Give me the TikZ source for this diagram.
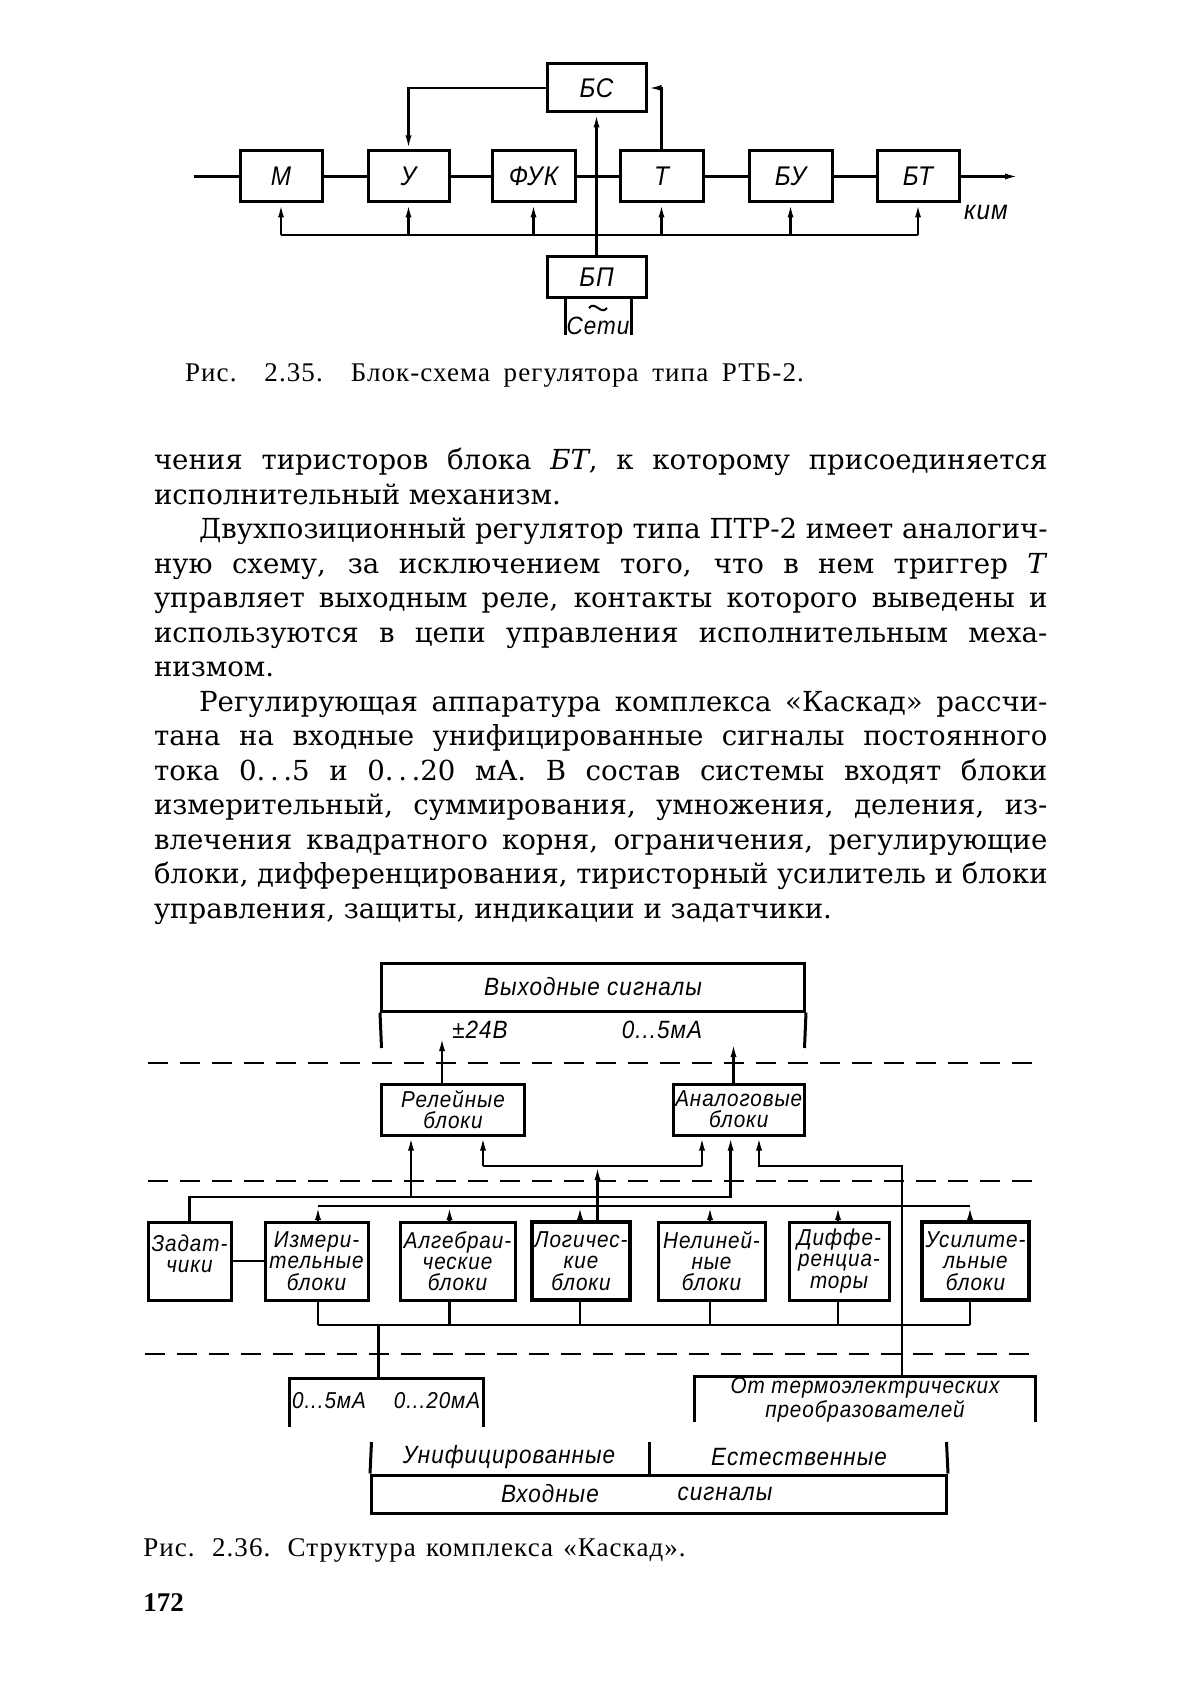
\documentclass[tikz,border=0pt]{standalone}
\usepackage{fontspec}
\setmainfont{DejaVu Serif}
\newfontfamily\capfont[LetterSpace=4]{Liberation Serif}
\newfontfamily\pgfontfam{Liberation Serif}
\newfontfamily\gostfont[LetterSpace=4,FakeStretch=0.9]{Liberation Sans}
\usetikzlibrary{arrows.meta,calc}
\newsavebox\jbox
\newcommand\jline[2]{\sbox\jbox{#2}\ifdim\wd\jbox>#1\relax\pgfmathsetmacro\jfac{#1/\the\wd\jbox}\scalebox{\jfac}[1]{\usebox\jbox}\else\makebox[#1][s]{#2}\fi}
\newcommand\gfont{\gostfont\itshape\fontsize{11.5}{10.6}\selectfont}
\newcommand\gfontL{\gostfont\itshape\fontsize{12.5}{12}\selectfont}
\newcommand\gfontT{\gostfont\itshape\fontsize{13.5}{14}\selectfont}
\newcommand\bodyfont{\fontsize{13.8}{16}\selectfont}
\newcommand\cfont{\capfont\fontsize{13.5}{15}\selectfont}
\begin{document}
\begin{tikzpicture}[x=0.5pt,y=-0.5pt,
  >={Latex[length=7pt,width=3pt]},
  blk/.style={draw,line width=1.5pt,inner sep=0pt,font=\gfont,align=center},
  blkL/.style={blk,font=\gfontL},
  blkT/.style={blk,font=\gfontT},
  nobox/.style={inner sep=0pt,font=\gfont,align=center},
  conn/.style={line width=1.2pt},
  boxln/.style={line width=1.5pt},
  dsh/.style={line width=1.1pt,dash pattern=on 10pt off 6pt},
  lbl/.style={inner sep=0pt,font=\gfont,align=center},
  lblL/.style={inner sep=0pt,font=\gfontL,align=center},
  lblT/.style={inner sep=0pt,font=\gfontT,align=center},
  txt/.style={anchor=base west,inner sep=0pt,font=\bodyfont},
  captxt/.style={anchor=base west,inner sep=0pt,font=\cfont}]
\useasboundingbox (0,0) rectangle (1188,1684);
\fill[white] (0,0) rectangle (1188,1684);

% ---------------- Fig. 2.35 ----------------
\node[blkT,minimum width=49.5pt,minimum height=24pt] (BS) at (596.5,88) {БС};
\node[blkT,minimum width=41pt,minimum height=25.5pt] (M) at (281,176.5) {М};
\node[blkT,minimum width=40.5pt,minimum height=25.5pt] (U) at (408.5,176.5) {У};
\node[blkT,minimum width=41.5pt,minimum height=25.5pt] (F) at (533.5,176.5) {ФУК};
\node[blkT,minimum width=41.5pt,minimum height=25.5pt] (T) at (661.5,176.5) {Т};
\node[blkT,minimum width=41.5pt,minimum height=25.5pt] (BU) at (790.5,176.5) {БУ};
\node[blkT,minimum width=41pt,minimum height=25.5pt] (BT) at (918,176.5) {БТ};
\node[blkT,minimum width=49.5pt,minimum height=20.5pt] (BP) at (596.5,277.5) {БП};

\coordinate (in) at (194,176.5);
\coordinate (out) at (1019,176.5);
\draw[conn] (in) -- (M.west);
\draw[conn] (M.east) -- (U.west);
\draw[conn] (U.east) -- (F.west);
\draw[conn] (F.east) -- (T.west);
\draw[conn] (T.east) -- (BU.west);
\draw[conn] (BU.east) -- (BT.west);
\draw[conn,->] (BT.east) -- (out);
\node[lblT] (kim) at (986,212) {ким};

\coordinate (bus) at (0,235);
\draw[conn] (M.south |- bus) -- (BT.south |- bus);
\foreach \n in {M,U,F,T,BU,BT} \draw[conn,->] (\n.south |- bus) -- (\n.south);
\draw[conn,->] (BP.north) -- (BS.south);
\draw[conn,->] (BS.west) -| (U.north);
\draw[conn,->] (T.north) |- (BS.east);
\coordinate (legL) at (565,335);
\coordinate (legR) at (631,335);
\draw[boxln] (BP.south -| legL) -- (legL);
\draw[boxln] (BP.south -| legR) -- (legR);
\coordinate (tl) at (589,308);
\coordinate (tr) at (607,308);
\draw[line width=1pt] (tl) .. controls (595,300) and (601,316) .. (tr);
\node[lblL] (seti) at (598,326) {Сети};

\node[captxt] (cap1) at (184.7,382) {\jline{309.4pt}{Рис. 2.35. Блок-схема регулятора типа РТБ-2.}};

% ---------------- Body text ----------------
\node[txt] (l1) at (153.6,469.5) {\jline{446.7pt}{чения тиристоров блока \textit{БТ}, к которому присоединяется}};
\node[txt] (l2) at (153.6,504) {исполнительный механизм.};
\node[txt] (l3) at (198.7,538.5) {\jline{424.2pt}{Двухпозиционный регулятор типа ПТР-2 имеет аналогич-}};
\node[txt] (l4) at (153.6,573) {\jline{446.7pt}{ную схему, за исключением того, что в нем триггер \textit{T}}};
\node[txt] (l5) at (153.6,607.5) {\jline{446.7pt}{управляет выходным реле, контакты которого выведены и}};
\node[txt] (l6) at (153.6,642) {\jline{446.7pt}{используются в цепи управления исполнительным меха-}};
\node[txt] (l7) at (153.6,676.5) {низмом.};
\node[txt] (l8) at (198.7,711) {\jline{424.2pt}{Регулирующая аппаратура комплекса «Каскад» рассчи-}};
\node[txt] (l9) at (153.6,745.5) {\jline{446.7pt}{тана на входные унифицированные сигналы постоянного}};
\node[txt] (l10) at (153.6,780) {\jline{446.7pt}{тока 0.\,.\,.5 и 0.\,.\,.20 мА. В состав системы входят блоки}};
\node[txt] (l11) at (153.6,814.5) {\jline{446.7pt}{измерительный, суммирования, умножения, деления, из-}};
\node[txt] (l12) at (153.6,849) {\jline{446.7pt}{влечения квадратного корня, ограничения, регулирующие}};
\node[txt] (l13) at (153.6,883.5) {\jline{446.7pt}{блоки, дифференцирования, тиристорный усилитель и блоки}};
\node[txt] (l14) at (153.6,918) {управления, защиты, индикации и задатчики.};

% ---------------- Fig. 2.36 ----------------
\node[blkL,minimum width=211.5pt,minimum height=24pt] (Out) at (593,987) {Выходные сигналы};
\coordinate (outL) at (381.5,1048);
\coordinate (outR) at (804.5,1048);
\draw[boxln] (Out.south west) -- (outL);
\draw[boxln] (Out.south east) -- (outR);
\node[lblL] (v24) at (480,1030) {±24В};
\node[lblL] (v05) at (662,1030) {0...5мА};

\coordinate (d1a) at (148,1063); \coordinate (d1b) at (1040,1063);
\coordinate (d2a) at (148,1181); \coordinate (d2b) at (1033,1181);
\coordinate (d3a) at (145,1354); \coordinate (d3b) at (1038,1354);
\draw[dsh] (d1a) -- (d1b);
\draw[dsh] (d2a) -- (d2b);
\draw[dsh] (d3a) -- (d3b);

\node[blk,minimum width=71.5pt,minimum height=25.5pt] (Rel) at (453,1109.5) {Релейные\\блоки};
\node[blk,minimum width=65.75pt,minimum height=25.5pt] (Ana) at (738.75,1109.5) {Аналоговые\\блоки};
\coordinate (relout) at (442,1037);
\coordinate (anaout) at (733.5,1043);
\draw[conn,->] (Rel.north -| relout) -- (relout);
\draw[conn,->] (Ana.north -| anaout) -- (anaout);

\node[blk,minimum width=41.5pt,minimum height=39pt] (Zad) at (189.5,1261) {};
\node[lbl] (zadt) at (189.5,1254) {Задат-\\чики};
\node[blk,minimum width=51.5pt,minimum height=39pt] (Izm) at (316.5,1261) {Измери-\\тельные\\блоки};
\node[blk,minimum width=57.5pt,minimum height=39pt] (Alg) at (457.5,1261) {Алгебраи-\\ческие\\блоки};
\node[blk,minimum width=49pt,minimum height=39pt,line width=1.8pt] (Log) at (581,1261) {Логичес-\\кие\\блоки};
\node[blk,minimum width=53.5pt,minimum height=39pt] (Nel) at (711.5,1261) {Нелиней-\\ные\\блоки};
\node[blk,minimum width=50pt,minimum height=39pt] (Dif) at (839,1261) {Диффе-\\ренциа-\\торы};
\node[blk,minimum width=53.5pt,minimum height=39pt,line width=1.8pt] (Usi) at (975.5,1261) {Усилите-\\льные\\блоки};
\draw[conn] (Zad.east) -- (Izm.west);

% upper bus with arrows from the blocks
\coordinate (a1) at (318,1206); \coordinate (a2) at (449.5,1206);
\coordinate (a3) at (580,1206); \coordinate (a4) at (710,1206);
\coordinate (a5) at (838,1206); \coordinate (a6) at (970,1206);
\draw[conn] (a1) -- (a6);
\draw[conn,->] (Izm.north -| a1) -- (a1);
\draw[conn,->] (Alg.north -| a2) -- (a2);
\draw[conn,->] (Log.north -| a3) -- (a3);
\draw[conn,->] (Nel.north -| a4) -- (a4);
\draw[conn,->] (Dif.north -| a5) -- (a5);
\draw[conn,->] (Usi.north -| a6) -- (a6);

% lower bus
\coordinate (b1) at (318,1325); \coordinate (b2) at (449.5,1325);
\coordinate (b3) at (580,1325); \coordinate (b4) at (710,1325);
\coordinate (b5) at (838,1325); \coordinate (b6) at (970,1325);
\draw[conn] (b1) -- (b6);
\draw[conn] (Izm.south -| b1) -- (b1);
\draw[conn] (Alg.south -| b2) -- (b2);
\draw[conn] (Log.south -| b3) -- (b3);
\draw[conn] (Nel.south -| b4) -- (b4);
\draw[conn] (Dif.south -| b5) -- (b5);
\draw[conn] (Usi.south -| b6) -- (b6);

% Zadatchiki line
\coordinate (zR) at (730.6,1197);
\coordinate (zB) at (411,1197);
\draw[conn,->] (Zad.north) |- (zR) -- (Ana.south -| zR);
\draw[conn,->] (zB) -- (Rel.south -| zB);

% line at 1166
\coordinate (hL) at (483,1166);
\coordinate (hR) at (702,1166);
\draw[conn,->] (hL) -- (Rel.south -| hL);
\draw[conn] (hL) -- (hR);
\draw[conn,->] (hR) -- (Ana.south -| hR);
\coordinate (lg) at (597.5,1166);
\draw[conn,->] (Log.north -| lg) -- (lg);

% input boxes
\node[nobox,minimum width=96.5pt,minimum height=24pt] (Uni) at (386.5,1403) {};
\draw[boxln] (Uni.south west) -- (Uni.north west) -- (Uni.north east) -- (Uni.south east);
\node[lbl] (u5) at (329,1401) {0...5мА};
\node[lbl] (u20) at (437,1401) {0...20мА};
\coordinate (b0) at (378.5,1325);
\draw[conn] (b0) -- (b0 |- Uni.north);

\node[nobox,minimum width=170pt,minimum height=22.5pt] (Thm) at (865,1399.5) {От термоэлектрических\\преобразователей};
\draw[boxln] (Thm.south west) -- (Thm.north west) -- (Thm.north east) -- (Thm.south east);
\coordinate (ar) at (759,1166);
\coordinate (ar2) at (902,1166);
\draw[conn,<-] (Ana.south -| ar) -- (ar) -- (ar2) -- (ar2 |- Thm.north);

\node[blk,minimum width=287.5pt,minimum height=19pt] (Inp) at (659,1494) {};
\node[lblL] (inp1) at (550,1494) {Входные};
\node[lblL] (inp2) at (725,1494) {сигналы};
\coordinate (iL) at (371.5,1442);
\coordinate (iR) at (946.5,1442);
\coordinate (iM) at (649.5,1442);
\draw[boxln] (Inp.north west) -- (iL);
\draw[boxln] (Inp.north east) -- (iR);
\draw[conn] (Inp.north -| iM) -- (iM);
\node[lblL] (unif) at (509,1457) {Унифицированные};
\node[lblL] (nat) at (799,1457) {Естественные};

\node[captxt] (cap2) at (142.9,1556) {\jline{271.2pt}{Рис. 2.36. Структура комплекса «Каскад».}};
\node[anchor=base west,inner sep=0pt,font=\pgfontfam\bfseries\fontsize{13.5}{15}\selectfont] (pg) at (143,1611) {172};
\end{tikzpicture}
\end{document}
